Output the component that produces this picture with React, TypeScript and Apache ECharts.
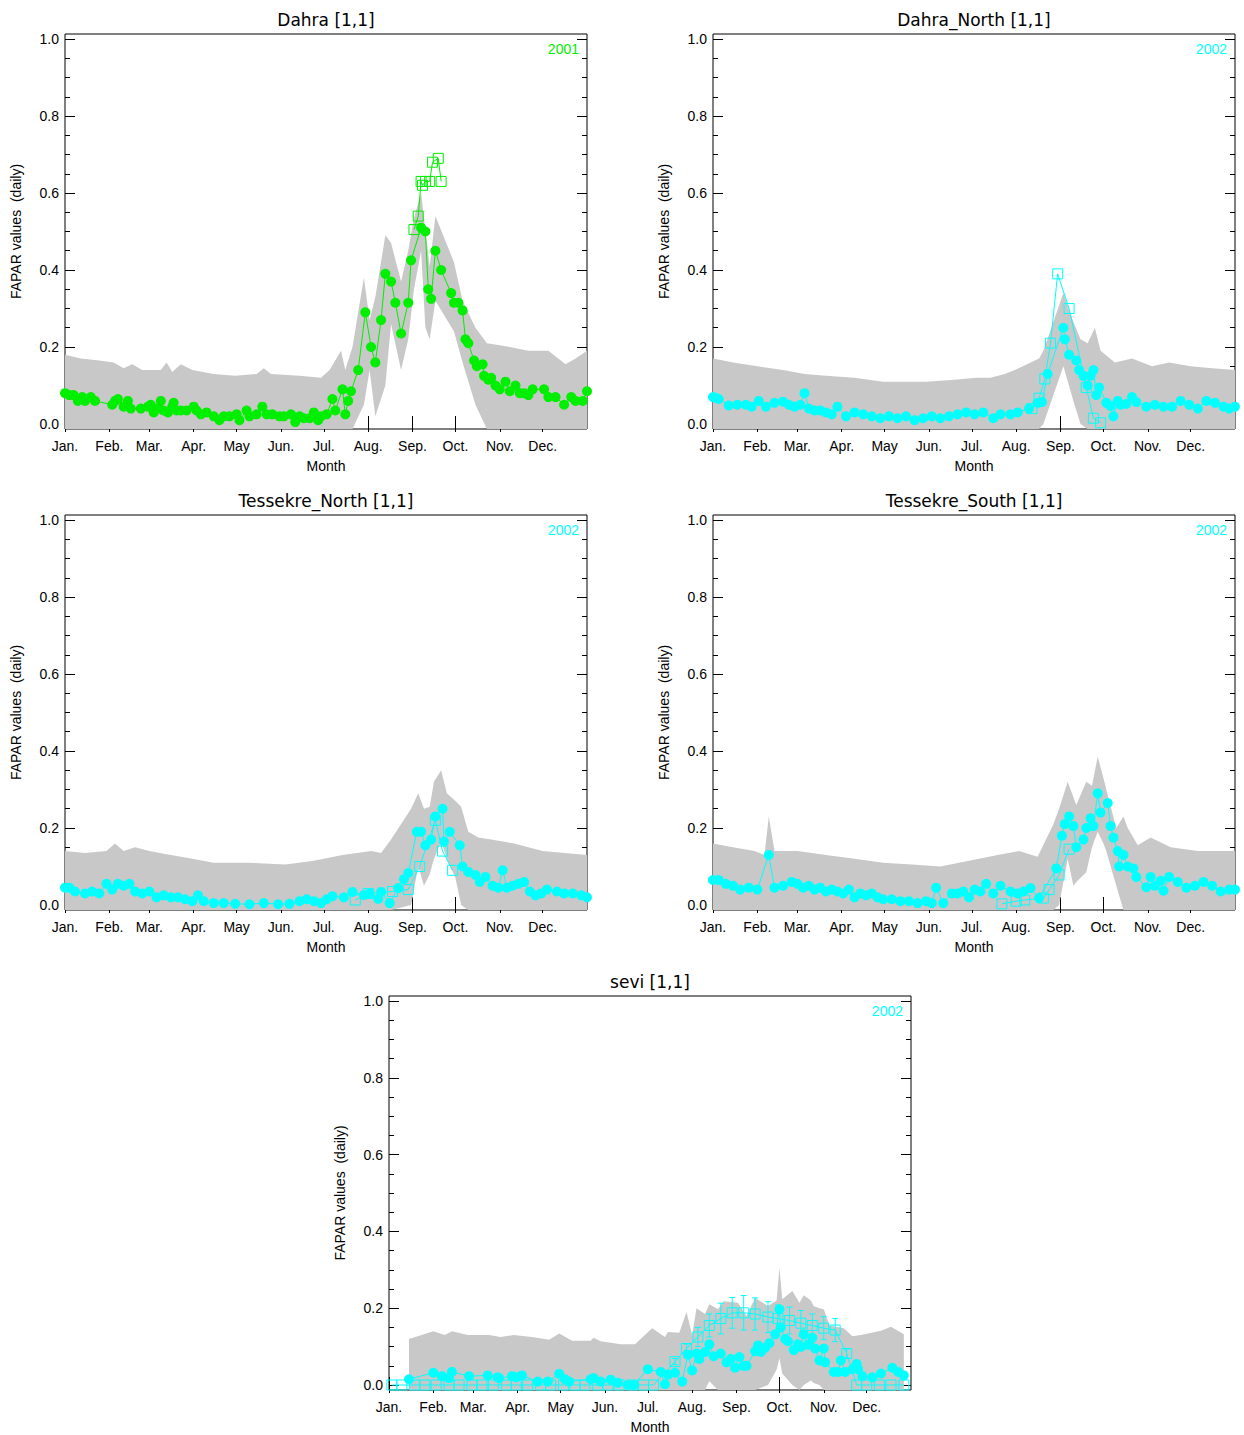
import React, { useEffect, useRef } from "react";
import * as echarts from "echarts";

const monthStarts = [1, 32, 60, 91, 121, 152, 182, 213, 244, 274, 305, 335];
const monthLabels = ["Jan.", "Feb.", "Mar.", "Apr.", "May", "Jun.", "Jul.", "Aug.", "Sep.", "Oct.", "Nov.", "Dec."];
const yMajor = [0, 0.2, 0.4, 0.6, 0.8, 1.0];
const yMinor = [0.05, 0.1, 0.15, 0.25, 0.3, 0.35, 0.45, 0.5, 0.55, 0.65, 0.7, 0.75, 0.85, 0.9, 0.95];
const titles = ["Dahra [1,1]", "Dahra_North [1,1]", "Tessekre_North [1,1]", "Tessekre_South [1,1]", "sevi [1,1]"];
const years = ["2001", "2002", "2002", "2002", "2002"];
const colors = ["#00ee00", "#00ffff", "#00ffff", "#00ffff", "#00ffff"];

// [day, upper, lower]
const band1 = [[1,.18,-.02],[12,.17,-.02],[25,.165,-.02],[35,.16,-.02],[42,.145,-.02],[48,.155,-.02],[55,.14,-.02],[68,.14,-.02],[72,.16,-.02],[76,.135,-.02],[82,.155,-.02],[90,.14,-.02],[105,.13,-.02],[120,.125,-.02],[135,.13,-.02],[140,.145,-.02],[145,.13,-.02],[165,.125,-.02],[180,.12,-.02],[186,.14,-.02],[194,.19,-.02],[197,.14,-.02],[202,.2,-.02],[210,.38,.05],[214,.27,.14],[218,.33,.02],[225,.49,.1],[229,.47,.26],[236,.37,.14],[241,.45,.22],[245,.535,.35],[250,.6,.45],[253,.5,.25],[256,.41,.22],[260,.54,.32],[273,.42,.24],[279,.32,.16],[288,.25,.05],[296,.21,-.02],[304,.205,-.02],[312,.2,-.02],[325,.19,-.02],[339,.19,-.02],[351,.155,-.02],[358,.17,-.02],[366,.19,-.02]];
const band2 = [[1,.17,-.02],[15,.16,-.02],[32,.15,-.02],[50,.14,-.02],[65,.13,-.02],[80,.125,-.02],[100,.12,-.02],[120,.11,-.02],[150,.11,-.02],[170,.115,-.02],[185,.12,-.02],[195,.12,-.02],[205,.13,-.02],[212,.14,-.02],[229,.17,-.02],[232,.19,0],[246,.34,.15],[253,.265,.06],[258,.22,0],[263,.21,-.02],[268,.25,-.02],[272,.19,-.02],[282,.16,-.02],[294,.17,-.02],[308,.15,-.02],[320,.16,-.02],[335,.15,-.02],[350,.145,-.02],[366,.14,-.02]];
const band3 = [[1,.14,-.02],[15,.135,-.02],[30,.14,-.02],[36,.16,-.02],[42,.14,-.02],[50,.15,-.02],[60,.14,-.02],[75,.13,-.02],[90,.12,-.02],[105,.11,-.02],[130,.11,-.02],[155,.105,-.02],[175,.115,-.02],[195,.13,-.02],[215,.14,-.02],[222,.135,-.02],[229,.17,-.02],[243,.25,0],[248,.29,.1],[252,.25,.05],[256,.255,.08],[259,.32,.12],[264,.35,.165],[268,.29,.12],[274,.27,.07],[278,.255,0],[283,.19,-.02],[290,.175,-.02],[299,.17,-.02],[315,.16,-.02],[335,.14,-.02],[366,.13,-.02]];
const band4 = [[1,.16,-.02],[15,.15,-.02],[30,.14,-.02],[37,.13,-.02],[40,.23,-.02],[44,.14,-.02],[60,.14,-.02],[80,.13,-.02],[100,.12,-.02],[120,.11,-.02],[140,.105,-.02],[160,.1,-.02],[180,.115,-.02],[200,.13,-.02],[215,.14,-.02],[228,.125,-.02],[239,.21,-.02],[243,.25,0],[249,.32,.12],[253,.28,.05],[255,.26,.06],[262,.32,.085],[266,.31,.15],[270,.385,.19],[274,.33,.16],[276,.3,.14],[283,.2,.05],[288,.23,-.02],[291,.2,-.02],[298,.155,-.02],[307,.175,-.02],[321,.15,-.02],[340,.14,-.02],[366,.14,-.02]];
const band5 = [[15,.12,-.02],[32,.14,-.02],[40,.13,-.02],[45,.14,-.02],[56,.13,-.02],[71,.13,-.02],[79,.125,-.02],[88,.13,-.02],[101,.125,-.02],[113,.118,-.02],[120,.134,-.02],[129,.115,-.02],[142,.115,-.02],[144,.123,-.02],[149,.114,-.02],[163,.106,-.02],[173,.106,-.02],[185,.148,-.02],[194,.125,-.02],[196,.138,-.02],[204,.136,-.02],[209,.19,-.02],[213,.13,-.02],[216,.2,-.02],[222,.185,-.02],[225,.21,.01],[231,.197,-.02],[235,.218,-.02],[245,.214,-.02],[251,.18,-.02],[257,.227,-.02],[266,.206,0],[272,.22,.04],[274,.305,.07],[276,.223,.03],[283,.245,0],[288,.214,-.02],[291,.234,0],[296,.22,.012],[298,.205,.005],[302,.2,0],[305,.197,-.02],[309,.155,-.02],[319,.148,-.02],[325,.127,-.02],[331,.13,-.02],[345,.141,-.02],[352,.152,-.02],[361,.132,-.02]];

const circ1 = [[1,.08],[4,.075],[7,.075],[10,.06],[13,.07],[15,.06],[19,.07],[22,.06],[34,.05],[36,.06],[38,.065],[42,.045],[45,.06],[47,.04],[54,.04],[59,.045],[61,.05],[63,.03],[66,.04],[68,.06],[70,.035],[73,.03],[76,.045],[77,.055],[79,.035],[82,.035],[86,.035],[91,.045],[93,.035],[96,.025],[100,.03],[105,.02],[109,.01],[112,.02],[116,.02],[121,.025],[123,.01],[128,.035],[130,.02],[135,.025],[139,.045],[142,.025],[146,.025],[151,.02],[154,.02],[159,.025],[162,.005],[165,.02],[168,.015],[172,.015],[175,.03],[178,.01],[180,.02],[184,.025],[188,.065],[190,.035],[195,.09],[197,.025],[199,.06],[201,.085],[206,.14],[211,.29],[215,.2],[218,.16],[222,.27],[225,.39],[229,.37],[232,.315],[236,.235],[241,.315],[243,.425],[250,.51],[253,.5],[255,.35],[257,.325],[260,.45],[264,.4],[271,.34],[273,.315],[276,.315],[279,.295],[281,.22],[283,.21],[287,.165],[289,.15],[293,.155],[294,.125],[297,.115],[299,.12],[302,.1],[305,.09],[309,.11],[312,.085],[316,.1],[319,.08],[322,.08],[325,.075],[328,.09],[336,.09],[339,.07],[344,.07],[350,.05],[355,.07],[358,.06],[363,.06],[366,.085]];
const sq1 = [[245,.505],[248,.54],[250,.63],[251,.62],[253,.63],[256,.63],[258,.68],[262,.69],[264,.63]];

const circ2 = [[1,.07],[3,.068],[5,.065],[12,.048],[18,.05],[24,.05],[28,.045],[33,.06],[38,.045],[44,.055],[50,.058],[54,.05],[58,.045],[62,.05],[65,.08],[68,.04],[72,.035],[76,.035],[80,.03],[84,.025],[88,.045],[94,.02],[100,.03],[106,.025],[112,.02],[118,.015],[124,.02],[130,.015],[136,.02],[142,.01],[148,.015],[154,.02],[160,.015],[166,.02],[172,.025],[178,.03],[184,.025],[190,.03],[197,.015],[202,.025],[209,.025],[214,.03],[222,.04],[228,.055],[231,.057],[235,.13],[246,.25],[247,.22],[250,.18],[255,.165],[257,.14],[260,.125],[263,.1],[265,.125],[267,.14],[269,.075],[271,.095],[276,.055],[279,.047],[281,.02],[284,.06],[286,.05],[290,.052],[294,.07],[297,.057],[304,.045],[310,.05],[316,.045],[322,.045],[328,.06],[334,.05],[340,.04],[346,.06],[352,.055],[358,.045],[362,.04],[366,.045]];
const sq2 = [[224,.04],[229,.067],[233,.117],[237,.21],[242,.39],[250,.3],[262,.095],[267,.015],[272,.003]];

const circ3 = [[1,.045],[4,.045],[8,.035],[15,.03],[20,.035],[25,.03],[30,.055],[34,.04],[38,.055],[42,.05],[46,.055],[50,.035],[55,.03],[60,.035],[65,.02],[70,.025],[75,.02],[80,.02],[85,.015],[90,.01],[94,.025],[98,.01],[105,.005],[112,.005],[120,.003],[130,.002],[140,.005],[150,.002],[158,.003],[165,.01],[170,.015],[175,.01],[180,.005],[184,.015],[188,.023],[196,.02],[202,.034],[210,.026],[214,.03],[220,.016],[222,.034],[228,.005],[234,.044],[238,.067],[241,.083],[247,.19],[250,.19],[253,.155],[257,.17],[260,.23],[265,.25],[266,.165],[270,.19],[277,.155],[279,.1],[283,.086],[288,.078],[291,.06],[295,.073],[300,.05],[304,.045],[307,.09],[310,.045],[314,.05],[318,.055],[322,.06],[326,.035],[330,.025],[334,.03],[338,.04],[345,.035],[350,.03],[356,.03],[362,.025],[366,.02]];
const sq3 = [[204,.013],[213,.03],[230,.035],[241,.04],[249,.1],[260,.22],[265,.14],[272,.09]];

const circ4 = [[1,.065],[5,.065],[10,.055],[15,.05],[20,.04],[26,.045],[32,.04],[40,.13],[44,.045],[50,.05],[56,.06],[60,.055],[64,.045],[68,.05],[72,.04],[76,.045],[80,.035],[84,.04],[88,.035],[92,.03],[96,.04],[100,.02],[104,.03],[108,.025],[112,.03],[116,.02],[120,.015],[126,.015],[132,.01],[138,.01],[144,.005],[150,.01],[154,.005],[157,.045],[162,.005],[168,.03],[172,.03],[176,.035],[180,.02],[184,.04],[188,.035],[192,.055],[197,.03],[202,.05],[209,.035],[214,.03],[218,.035],[223,.044],[229,.018],[241,.095],[245,.18],[247,.21],[250,.23],[253,.205],[255,.15],[260,.17],[262,.2],[265,.225],[267,.205],[270,.29],[272,.24],[277,.265],[279,.205],[281,.175],[284,.14],[285,.1],[288,.13],[291,.1],[295,.095],[297,.073],[304,.046],[307,.073],[310,.05],[314,.063],[316,.037],[320,.073],[326,.06],[332,.045],[338,.05],[344,.06],[350,.05],[356,.035],[362,.04],[366,.04]];
const sq4 = [[203,.003],[213,.01],[219,.013],[232,.018],[236,.04],[243,.078],[250,.145]];

const circ5 = [[15,.015],[32,.032],[38,.023],[43,.018],[45,.034],[57,.023],[70,.025],[77,.02],[78,.018],[87,.023],[90,.02],[94,.025],[105,.009],[112,.009],[120,.029],[124,.015],[127,.009],[142,.015],[144,.018],[149,.009],[156,.014],[161,.006],[168,0],[172,0],[182,.041],[191,.034],[194,.002],[196,.027],[201,.032],[206,.009],[210,.079],[213,.038],[216,.082],[218,.068],[222,.086],[225,.106],[228,.075],[233,.082],[237,.059],[240,.068],[243,.045],[246,.073],[249,.05],[251,.05],[257,.088],[259,.103],[261,.086],[264,.097],[267,.109],[271,.132],[274,.197],[275,.15],[278,.12],[280,.114],[284,.091],[287,.106],[289,.099],[291,.132],[294,.105],[297,.123],[299,.095],[302,.064],[305,.095],[306,.059],[312,.034],[315,.034],[317,.064],[320,.034],[325,.041],[328,.055],[329,.041],[332,.023],[339,.02],[345,.03],[353,.045],[357,.034],[361,.025]];
const sq5 = [[3,0],[10,0],[19,0],[26,0],[34,0],[43,0],[50,0],[59,0],[66,0],[74,0],[83,0],[90,0],[98,0],[107,0],[114,0],[123,0],[131,0],[138,0],[147,0],[154,0],[162,0],[171,0],[179,0],[186,0],[201,.061],[209,.095],[217,.125],[225,.155],[233,.173],[241,.188],[249,.188],[257,.185],[266,.177],[273,.173],[281,.168],[289,.161],[297,.155],[305,.148],[313,.143],[321,.082],[328,0],[335,0],[344,0],[352,0],[361,0]];
// [day, value, error]
const err5 = [[201,.061,.008],[209,.095,.012],[217,.125,.025],[225,.155,.03],[233,.173,.04],[241,.188,.04],[249,.188,.045],[257,.185,.042],[266,.177,.04],[273,.173,.035],[281,.168,.035],[289,.161,.033],[297,.155,.03],[305,.148,.03],[313,.143,.03],[321,.082,.012]];

const bands = [band1, band2, band3, band4, band5];
const circs = [circ1, circ2, circ3, circ4, circ5];
const sqs = [sq1, sq2, sq3, sq4, sq5];
const errs = [[], [], [], [], err5];

const layout = [
  { left: 65, top: 34 }, { left: 713, top: 34 },
  { left: 65, top: 515 }, { left: 713, top: 515 },
  { left: 389, top: 996 },
];
const W = 522, H = 395, YMIN = -0.013, YMAX = 1.013;
const FONT = "Liberation Sans, Arial, sans-serif";
const TFONT = "DejaVu Sans, sans-serif";

export default function App() {
  const ref = useRef<HTMLDivElement>(null);
  useEffect(() => {
    const chart = echarts.init(ref.current!, null, { renderer: "svg" });
    const grid: any[] = [], xAxis: any[] = [], yAxis: any[] = [], series: any[] = [], graphic: any[] = [];
    layout.forEach((p, i) => {
      grid.push({ left: p.left, top: p.top, width: W, height: H, show: true, borderColor: "#000", borderWidth: 1, containLabel: false });
      const xb = {
        type: "value", gridIndex: i, min: 1, max: 366, axisLine: { show: false }, splitLine: { show: false },
        axisTick: { show: true, inside: true, length: 8, customValues: monthStarts, lineStyle: { color: "#000" } },
      };
      xAxis.push({ ...xb, position: "bottom", name: "Month", nameLocation: "middle", nameGap: 30,
        nameTextStyle: { fontFamily: FONT, fontSize: 14, color: "#000" },
        axisLabel: { show: true, customValues: monthStarts, formatter: (v: number) => monthLabels[monthStarts.indexOf(v)] ?? "", fontFamily: FONT, fontSize: 14, color: "#000", margin: 10 } });
      xAxis.push({ ...xb, position: "top", axisLabel: { show: false } });
      const yb = { type: "value", gridIndex: i, min: YMIN, max: YMAX, axisLine: { show: false }, splitLine: { show: false } };
      yAxis.push({ ...yb, position: "left", name: "FAPAR values  (daily)", nameLocation: "middle", nameRotate: 90, nameGap: 42,
        nameTextStyle: { fontFamily: FONT, fontSize: 14, color: "#000" },
        axisTick: { inside: true, length: 10, customValues: yMajor, lineStyle: { color: "#000" } },
        axisLabel: { customValues: yMajor, formatter: (v: number) => v.toFixed(1), fontFamily: FONT, fontSize: 14, color: "#000", margin: 6 } });
      yAxis.push({ ...yb, position: "left", axisTick: { inside: true, length: 5, customValues: yMinor, lineStyle: { color: "#000" } }, axisLabel: { show: false } });
      yAxis.push({ ...yb, position: "right", axisTick: { inside: true, length: 10, customValues: yMajor, lineStyle: { color: "#000" } }, axisLabel: { show: false } });
      yAxis.push({ ...yb, position: "right", axisTick: { inside: true, length: 5, customValues: yMinor, lineStyle: { color: "#000" } }, axisLabel: { show: false } });
      const xi = i * 2, yi = i * 4, col = colors[i];
      const band = bands[i];
      series.push({
        type: "custom", xAxisIndex: xi, yAxisIndex: yi, clip: true, silent: true, data: band,
        renderItem: (params: any, api: any) => {
          if (params.dataIndex !== 0) return null;
          const up = band.map((r) => api.coord([r[0], Math.min(r[1], YMAX)]));
          const lo = band.map((r) => api.coord([r[0], Math.max(r[2], YMIN)])).reverse();
          return { type: "polygon", shape: { points: up.concat(lo) }, style: { fill: "#c8c8c8", stroke: "none" } };
        },
      });
      series.push({ type: "line", xAxisIndex: xi, yAxisIndex: yi, data: circs[i], symbol: "circle", symbolSize: 10,
        itemStyle: { color: col }, lineStyle: { color: col, width: 1 } });
      series.push({ type: "line", xAxisIndex: xi, yAxisIndex: yi, data: sqs[i], symbol: "rect", symbolSize: 10,
        itemStyle: { color: "rgba(0,0,0,0)", borderColor: col, borderWidth: 1 }, lineStyle: { color: col, width: 1 } });
      if (errs[i].length) {
        series.push({
          type: "custom", xAxisIndex: xi, yAxisIndex: yi, clip: true, data: errs[i],
          renderItem: (params: any, api: any) => {
            const d = api.value(0), v = api.value(1), e = api.value(2);
            const a = api.coord([d, v + e]), b = api.coord([d, v - e]);
            const st = { stroke: col, lineWidth: 1 };
            return { type: "group", children: [
              { type: "line", shape: { x1: a[0], y1: a[1], x2: b[0], y2: b[1] }, style: st },
              { type: "line", shape: { x1: a[0] - 3, y1: a[1], x2: a[0] + 3, y2: a[1] }, style: st },
              { type: "line", shape: { x1: b[0] - 3, y1: b[1], x2: b[0] + 3, y2: b[1] }, style: st },
            ] };
          },
        });
      }
      graphic.push({ type: "text", x: p.left + W / 2, y: p.top - 14, style: { text: titles[i], font: `17px ${TFONT}`, fill: "#000", textAlign: "center", textVerticalAlign: "middle" } });
      graphic.push({ type: "text", x: p.left + W - 8, y: p.top + 15, style: { text: years[i], font: `14px ${FONT}`, fill: col, textAlign: "right", textVerticalAlign: "middle" } });
    });
    chart.setOption({ animation: false, backgroundColor: "#fff", grid, xAxis, yAxis, series, graphic });
    return () => chart.dispose();
  }, []);
  return <div ref={ref} style={{ position: "absolute", left: 0, top: 0, width: 1244, height: 1435 }} />;
}
